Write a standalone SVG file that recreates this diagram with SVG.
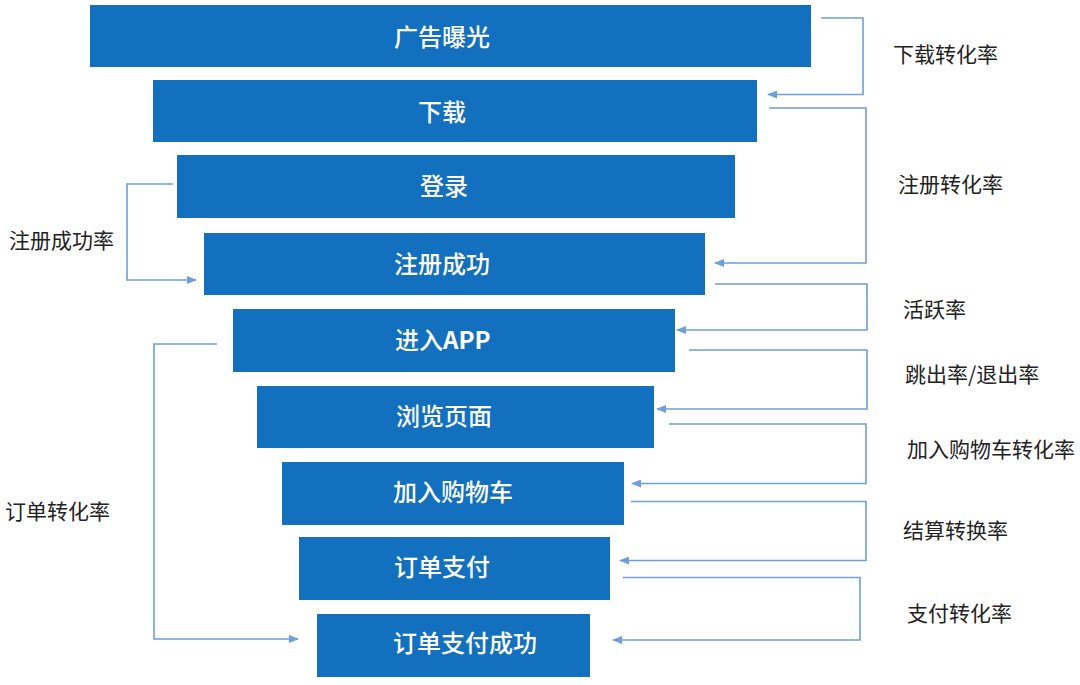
<svg xmlns="http://www.w3.org/2000/svg" width="1080" height="685" viewBox="0 0 1080 685">
<style>
.box{fill:#1270BE}
.bt{fill:#ffffff;font-family:"Noto Sans CJK SC","Noto Sans",sans-serif;font-size:24px;font-weight:500;dominant-baseline:central}
.b{font-weight:700}
.lt{fill:#222222;font-family:"Noto Sans CJK SC","Noto Sans",sans-serif;font-size:21px;dominant-baseline:central}
.c{fill:none;stroke:#6E9FD8;stroke-width:1.6;marker-end:url(#ah)}
</style>
<defs>
<marker id="ah" markerWidth="10" markerHeight="8" refX="9" refY="4" orient="auto" markerUnits="userSpaceOnUse">
<path d="M0,0 L10,4 L0,8 Z" fill="#6E9FD8"/>
</marker>
</defs>
<rect width="1080" height="685" fill="#ffffff"/>
<g id="n1"><rect class="box" x="90" y="5" width="721" height="62"/><text class="bt" x="394" y="35">广告曝光</text></g>
<g id="n2"><rect class="box" x="153" y="80" width="604" height="62"/><text class="bt" x="418" y="110">下载</text></g>
<g id="n3"><rect class="box" x="177" y="155" width="558" height="63"/><text class="bt" x="420" y="184">登录</text></g>
<g id="n4"><rect class="box" x="204" y="233" width="501" height="62"/><text class="bt" x="394" y="262">注册成功</text></g>
<g id="n5"><rect class="box" x="233" y="309" width="442" height="63"/><text class="bt" x="395" y="338">进入<tspan class="b">APP</tspan></text></g>
<g id="n6"><rect class="box" x="257" y="386" width="397" height="62"/><text class="bt" x="396" y="414">浏览页面</text></g>
<g id="n7"><rect class="box" x="282" y="462" width="342" height="63"/><text class="bt" x="393" y="490">加入购物车</text></g>
<g id="n8"><rect class="box" x="299" y="537" width="311" height="63"/><text class="bt" x="394" y="565">订单支付</text></g>
<g id="n9"><rect class="box" x="317" y="614" width="273" height="63"/><text class="bt" x="393" y="641">订单支付成功</text></g>
<g id="connectors">
<path class="c" d="M821,18 H863 V94.5 H768"/>
<path class="c" d="M769,108 H866 V263 H715"/>
<path class="c" d="M173,184 H127 V280 H196"/>
<path class="c" d="M715,284 H867 V330 H677"/>
<path class="c" d="M689,350 H867 V409 H657"/>
<path class="c" d="M669,424 H866 V483.5 H632"/>
<path class="c" d="M631,501.5 H866 V560.5 H620"/>
<path class="c" d="M623,577.5 H860 V640 H613"/>
<path class="c" d="M217,344 H154 V639 H298"/>
</g>
<g id="labels">
<text class="lt" x="893" y="52.5">下载转化率</text>
<text class="lt" x="898" y="182.5">注册转化率</text>
<text class="lt" x="9" y="238.5">注册成功率</text>
<text class="lt" x="903" y="307.5">活跃率</text>
<text class="lt" x="905" y="372.5">跳出率/退出率</text>
<text class="lt" x="907" y="447.5">加入购物车转化率</text>
<text class="lt" x="903" y="528.5">结算转换率</text>
<text class="lt" x="907" y="611.5">支付转化率</text>
<text class="lt" x="5" y="509.5">订单转化率</text>
</g>
</svg>
